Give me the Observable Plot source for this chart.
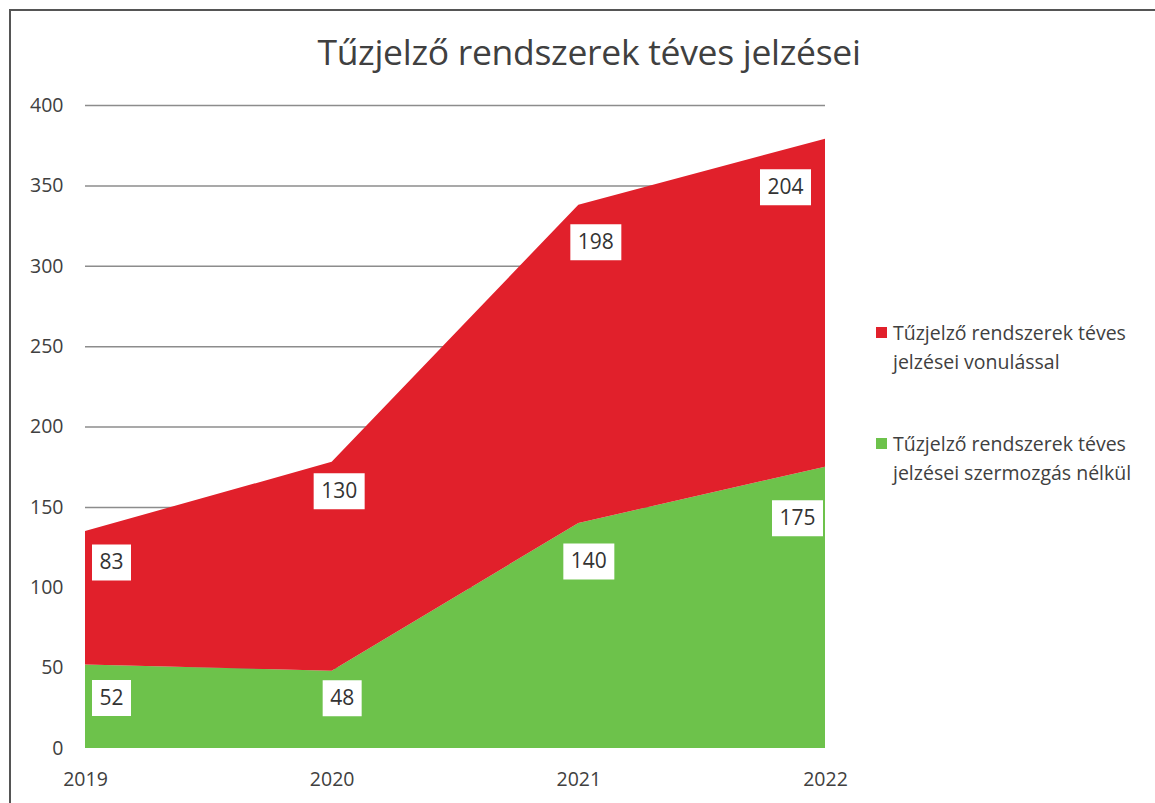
<!DOCTYPE html>
<html>
<head>
<meta charset="utf-8">
<script src="https://cdn.jsdelivr.net/npm/d3@7"></script>
<script src="https://cdn.jsdelivr.net/npm/@observablehq/plot@0.6"></script>
<style>
  html, body { margin: 0; padding: 0; background: #fff; }
  body { width: 1155px; height: 803px; position: relative; overflow: hidden; font-family: "Open Sans", sans-serif; color: #404040; }
  #frame { position: absolute; left: 9px; top: 9px; width: 1200px; height: 900px; border-top: 2px solid #555; border-left: 2px solid #555; }
  #title { position: absolute; left: 0; width: 1178px; top: 27px; text-align: center; font-size: 35.5px; color: #404040; letter-spacing: -0.3px; }
  #chart { position: absolute; left: 0; top: 90px; }
  .leg { position: absolute; left: 876px; font-size: 19.5px; line-height: 29px; color: #404040; white-space: nowrap; }
  .leg .sw { position: absolute; left: 0; top: 9px; width: 11px; height: 11px; }
  .leg .tx { margin-left: 17px; }
</style>
</head>
<body>
<div id="frame"></div>
<div id="title">Tűzjelző rendszerek téves jelzései</div>
<div id="chart"></div>
<div id="legend"></div>
<script>
const years = [2019, 2020, 2021, 2022];
const seriesNames = [
  "Tűzjelző rendszerek téves jelzései szermozgás nélkül",
  "Tűzjelző rendszerek téves jelzései vonulással"
];
const greenValues = [52, 48, 140, 175];
const redValues = [83, 130, 198, 204];
const seriesColors = ["#6dc24b", "#e1202b"];
const yTicks = [0, 50, 100, 150, 200, 250, 300, 350, 400];

// long-form table, bottom series first
const rows = [];
years.forEach((y, i) => {
  rows.push({year: y, series: seriesNames[0], value: greenValues[i], top: greenValues[i]});
  rows.push({year: y, series: seriesNames[1], value: redValues[i], top: greenValues[i] + redValues[i]});
});

// label offsets in pixels (layout only)
const labelOffset = {
  0: {0: [26, 33], 1: [26, 31]},
  1: {0: [10, 27], 1: [7, 29]},
  2: {0: [10, 38], 1: [17, 37]},
  3: {0: [-28, 51], 1: [-40, 48]}
};

const boxSymbol = (w, h) => ({draw(ctx) { ctx.rect(-w / 2, -h / 2, w, h); }});

const marks = [
  Plot.ruleY(yTicks.filter(d => d > 0), {stroke: "#8c8c8c", strokeWidth: 1.5}),
  Plot.areaY(rows, {x: "year", y: "value", fill: "series", order: seriesNames, curve: "linear"})
];
years.forEach((yr, i) => {
  seriesNames.forEach((s, j) => {
    const [dx, dy] = labelOffset[i][j];
    const sel = d => d.year === yr && d.series === s;
    const v = j === 0 ? greenValues[i] : redValues[i];
    const w = String(v).length >= 3 ? 51 : 39;
    marks.push(Plot.dot(rows, {filter: sel, x: "year", y: "top", dx, dy, symbol: boxSymbol(w, 36), fill: "white", stroke: "none", r: 10}));
    marks.push(Plot.text(rows, {filter: sel, x: "year", y: "top", dx, dy, text: d => String(d.value), fontSize: 21, fill: "#333", fontFamily: "Open Sans"}));
  });
});

const chart = Plot.plot({
  width: 1155,
  height: 713,
  marginLeft: 85,
  marginRight: 330,
  marginTop: 15,
  marginBottom: 55,
  style: {fontFamily: "Open Sans", fontSize: "19.5px", color: "#404040", background: "transparent", overflow: "visible"},
  x: {domain: [2019, 2022], ticks: years, tickFormat: d3.format("d"), tickSize: 0, tickPadding: 24, label: null},
  y: {domain: [0, 400], ticks: yTicks, tickSize: 0, tickPadding: 22, label: null},
  color: {domain: seriesNames, range: seriesColors},
  marks
});
document.getElementById("chart").appendChild(chart);

// legend
const legendItems = [
  {name: seriesNames[1], color: seriesColors[1], lines: ["Tűzjelző rendszerek téves", "jelzései vonulással"], top: 318},
  {name: seriesNames[0], color: seriesColors[0], lines: ["Tűzjelző rendszerek téves", "jelzései szermozgás nélkül"], top: 429}
];
const legend = document.getElementById("legend");
legendItems.forEach(it => {
  const d = document.createElement("div");
  d.className = "leg";
  d.style.top = it.top + "px";
  d.innerHTML = `<div class="sw" style="background:${it.color}"></div><div class="tx">${it.lines.join("<br>")}</div>`;
  legend.appendChild(d);
});
</script>
</body>
</html>
